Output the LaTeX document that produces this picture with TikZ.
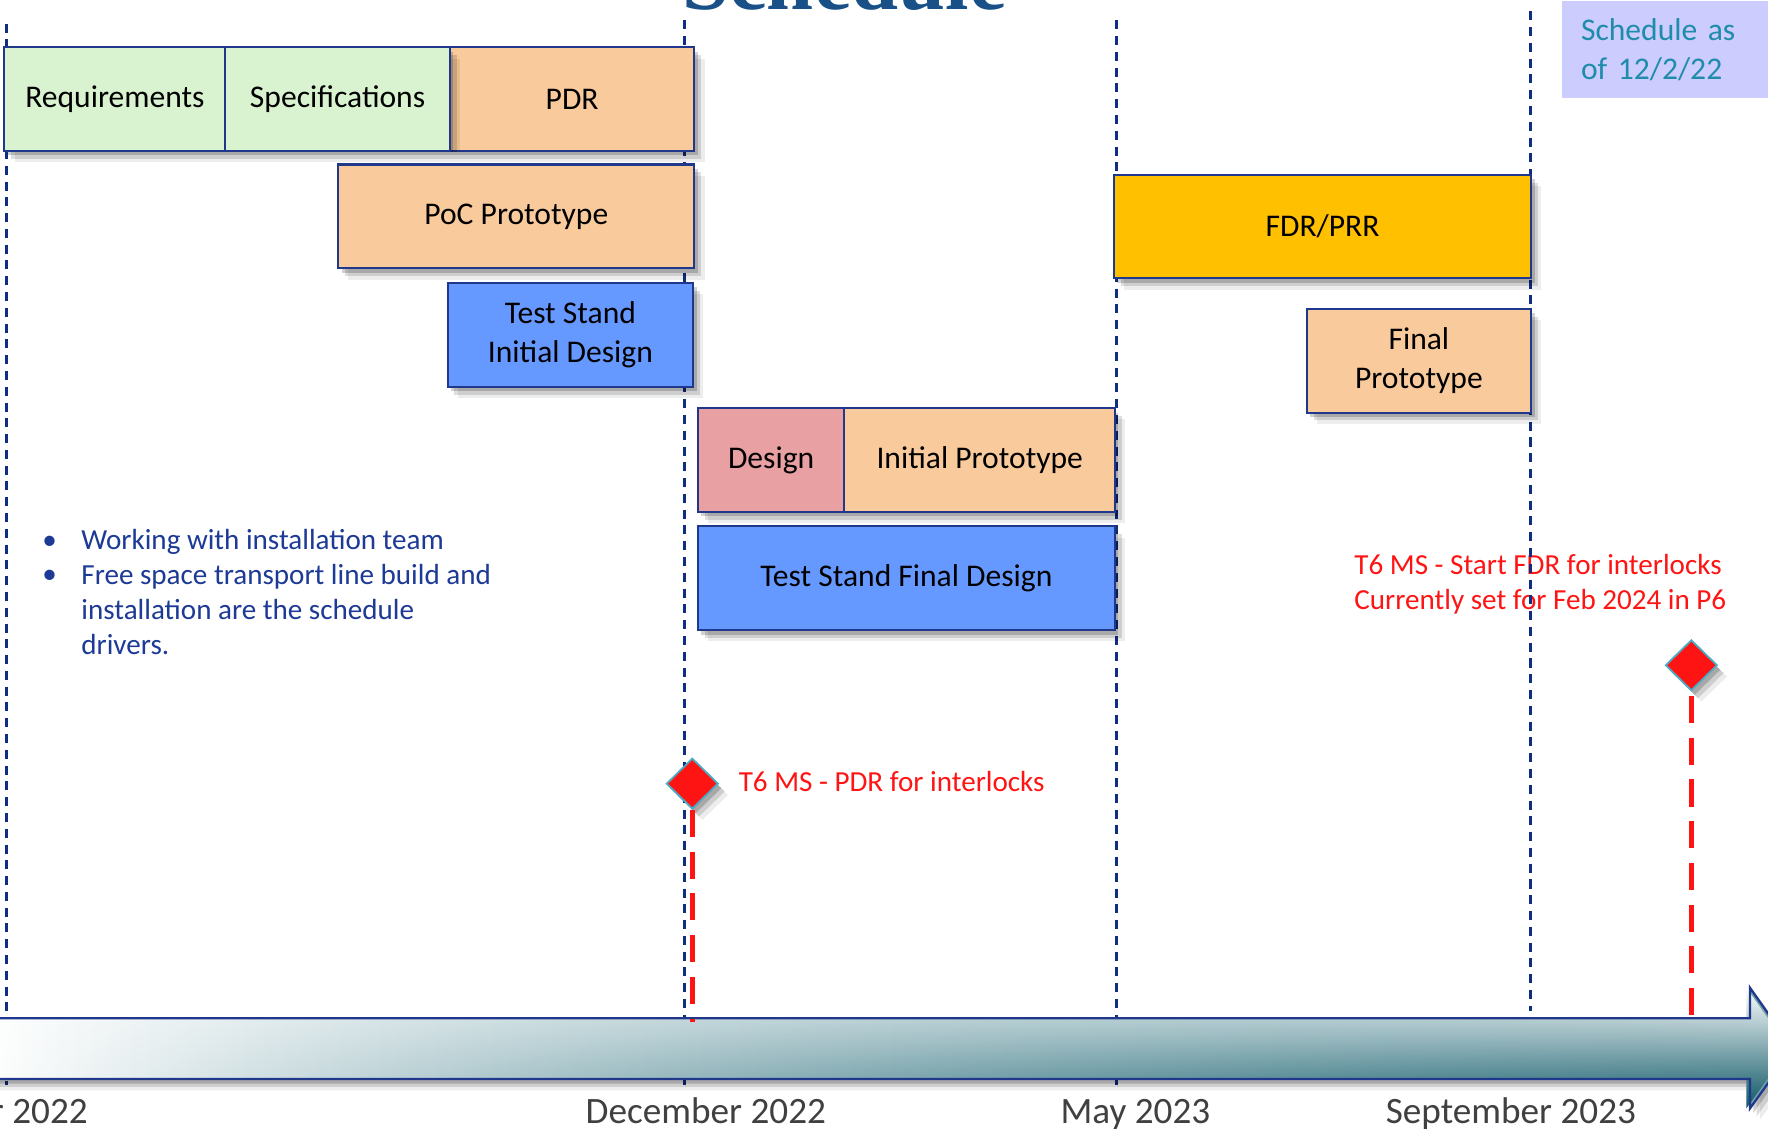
\documentclass[tikz,border=0pt]{standalone}
\usepackage{fontspec}
\setmainfont{Carlito}
\newfontfamily\titlefont{Liberation Serif}
\usetikzlibrary{shapes.geometric,shadows,fadings}
\definecolor{boxblue}{RGB}{32,56,140}
\definecolor{greenfill}{RGB}{217,242,208}
\definecolor{peachfill}{RGB}{248,202,156}
\definecolor{tsbluefill}{RGB}{102,153,255}
\definecolor{pinkfill}{RGB}{232,160,163}
\definecolor{goldfill}{RGB}{255,192,0}
\definecolor{lavfill}{RGB}{204,204,255}
\definecolor{tealtext}{RGB}{30,140,170}
\definecolor{navytext}{RGB}{28,58,150}
\definecolor{dashblue}{RGB}{15,45,130}
\definecolor{msred}{RGB}{255,20,20}
\definecolor{dmborder}{RGB}{75,172,198}
\definecolor{datecol}{RGB}{64,64,64}
\definecolor{titlecol}{RGB}{25,80,135}
\definecolor{arrowA}{RGB}{110,160,170}
\definecolor{arrowBot}{RGB}{10,85,100}
\tikzfading[name=fadein, left color=transparent!100, right color=transparent!0]
\newcommand\boxfont{\fontsize{28}{34}\selectfont}
\newcommand\notefont{\fontsize{25.8}{31}\selectfont}
\newcommand\datefont{\fontsize{33}{40}\selectfont}
\tikzset{
  softshadow/.style={
    drop shadow={shadow xshift=3pt,shadow yshift=-4pt,opacity=.18,fill=black},
    drop shadow={shadow xshift=6pt,shadow yshift=-7pt,opacity=.13,fill=black},
    drop shadow={shadow xshift=9pt,shadow yshift=-10pt,opacity=.07,fill=black}},
  taskbox/.style={draw=boxblue, line width=1.8pt, minimum height=92pt, inner sep=0pt,
    anchor=north west, font=\boxfont, text=black, align=center, softshadow},
  vline/.style={draw=dashblue, line width=2.6pt, dash pattern=on 8pt off 6pt},
  msline/.style={draw=msred, line width=4pt, dash pattern=on 24pt off 13pt},
  msdiamond/.style={diamond, fill=msred, draw=dmborder, line width=1.6pt,
    minimum width=46pt, minimum height=45pt, inner sep=0pt, softshadow},
  mstext/.style={text=msred, font=\notefont, inner sep=0pt, align=left},
  datelabel/.style={text=datecol, font=\datefont, inner sep=0pt, anchor=base}
}
\begin{document}
\begin{tikzpicture}[x=1pt,y=-1pt]
\useasboundingbox (0,0) rectangle (1568,1003);
\fill[white] (0,0) rectangle (1568,1003);

% title (cut off at the top)
\node[anchor=base, font=\titlefont\bfseries\fontsize{75}{80}\selectfont, text=titlecol, inner sep=0pt] (title) at (749,8) {Schedule};

% schedule-as-of box
\node[fill=lavfill, anchor=north west, minimum height=86pt, text width=160pt, inner xsep=17pt, inner ysep=0pt,
  align=left, font=\boxfont, text=tealtext] (asof) at (1385,1) {Schedule as\\of 12/2/22};

% notes
\node[anchor=west, align=left, font=\notefont, text=navytext, inner sep=0pt] (notes) at (72,525) {Working with installation team\\Free space transport line build and\\installation are the schedule\\drivers.};
\node[font=\notefont, text=navytext, inner sep=0pt] (b1) at (44,481) {\textbullet};
\node[font=\notefont, text=navytext, inner sep=0pt] (b2) at (44,512) {\textbullet};

% milestone texts
\node[mstext, anchor=west] (ms1txt) at (655,693) {T6 MS - PDR for interlocks};
\node[mstext, anchor=west] (ms2txt) at (1201,518) {T6 MS - Start FDR for interlocks\\Currently set for Feb 2024 in P6};

% vertical dashed month lines
\coordinate (l0t) at (6,21);   \coordinate (l0b) at (6,962);
\coordinate (l1t) at (607,18); \coordinate (l1b) at (607,962);
\coordinate (l2t) at (990,18); \coordinate (l2b) at (990,962);
\coordinate (l3t) at (1357,10); \coordinate (l3b) at (1357,897);
\draw[vline] (l0t) -- (l0b);
\draw[vline] (l1t) -- (l1b);
\draw[vline] (l2t) -- (l2b);
\draw[vline] (l3t) -- (l3b);

% task boxes
\node[taskbox, fill=greenfill, minimum width=196pt] (req) at (3,41) {Requirements};
\node[taskbox, fill=peachfill, minimum width=217pt] (pdr) at (398,41) {PDR};
\node[taskbox, fill=greenfill, minimum width=199pt] (spec) at (199,41) {Specifications};
\node[taskbox, fill=peachfill, minimum width=316pt] (poc) at (299,145) {PoC Prototype};
\node[taskbox, fill=tsbluefill, minimum width=218pt] (tsi) at (396,250) {Test Stand\\Initial Design};
\node[taskbox, fill=pinkfill, minimum width=130pt] (des) at (618,361) {Design};
\node[taskbox, fill=peachfill, minimum width=240pt] (ip) at (748,361) {Initial Prototype};
\node[taskbox, fill=tsbluefill, minimum width=370pt] (tsf) at (618,466) {Test Stand Final Design};
\node[taskbox, fill=goldfill, minimum width=370pt] (fdr) at (987,154) {FDR/PRR};
\node[taskbox, fill=peachfill, minimum width=199pt] (fp) at (1158,273) {Final\\Prototype};

% timeline arrow
\shade[softshadow, left color=white, right color=arrowA]
  (-10,903) -- (1552,903) -- (1552,876) -- (1590,930) -- (1552,983) -- (1552,957) -- (-10,957) -- cycle;
\shade[top color=white, bottom color=arrowBot, path fading=fadein]
  (-10,903) -- (1552,903) -- (1552,876) -- (1590,930) -- (1552,983) -- (1552,957) -- (-10,957) -- cycle;
\draw[draw=boxblue, line width=2pt, line join=miter]
  (-10,903) -- (1552,903) -- (1552,876) -- (1590,930) -- (1552,983) -- (1552,957) -- (-10,957) -- cycle;
\coordinate (axtop) at (0,906);

% milestones
\node[msdiamond] (m1) at (614,695) {};
\node[msdiamond] (m2) at (1500,590) {};
\draw[msline] (m1.south) -- (m1.south |- axtop);
\draw[msline] ([yshift=-4pt]m2.south) -- (m2.south |- axtop);

% date labels
\node[datelabel, anchor=base east] (d0) at (78,996) {October 2022};
\node[datelabel] (d1) at (626,996) {December 2022};
\node[datelabel] (d2) at (1007,996) {May 2023};
\node[datelabel] (d3) at (1340,996) {September 2023};
\end{tikzpicture}
\end{document}
